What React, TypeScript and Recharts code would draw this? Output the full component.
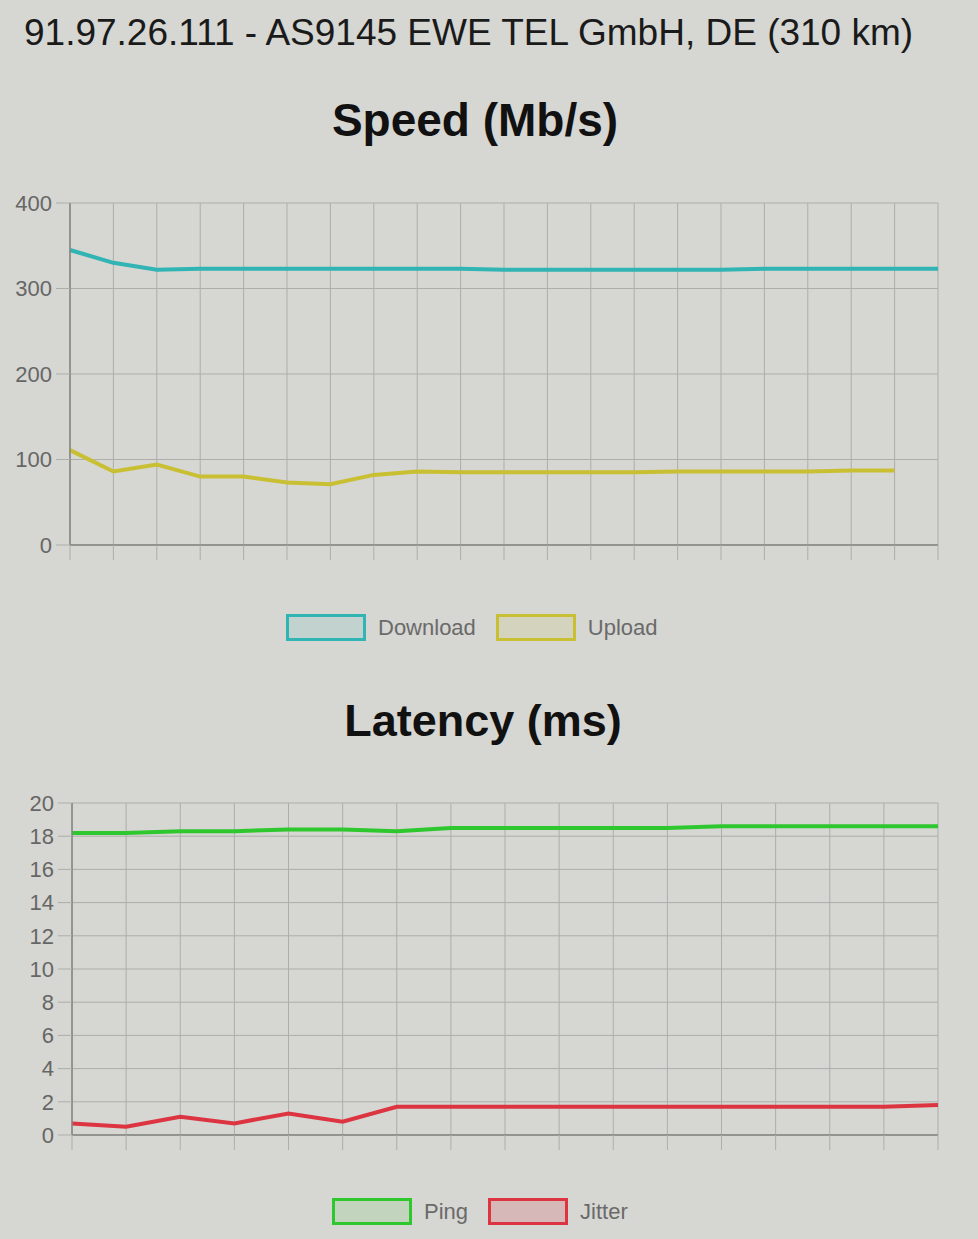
import React from 'react';
import { LineChart, Line, XAxis, YAxis, CartesianGrid } from 'recharts';

const headerText = '91.97.26.111 - AS9145 EWE TEL GmbH, DE (310 km)';
const speedTitle = 'Speed (Mb/s)';
const latencyTitle = 'Latency (ms)';

const speedTicks = [0, 100, 200, 300, 400];
const latencyTicks = [0, 2, 4, 6, 8, 10, 12, 14, 16, 18, 20];

const downloadValues = [345, 330, 322, 323, 323, 323, 323, 323, 323, 323, 322, 322, 322, 322, 322, 322, 323, 323, 323, 323, 323];
const uploadValues = [111, 86, 94, 80, 80, 73, 71, 82, 86, 85, 85, 85, 85, 85, 86, 86, 86, 86, 87, 87];

const pingValues = [18.2, 18.2, 18.3, 18.3, 18.4, 18.4, 18.3, 18.5, 18.5, 18.5, 18.5, 18.5, 18.6, 18.6, 18.6, 18.6, 18.6];
const jitterValues = [0.7, 0.5, 1.1, 0.7, 1.3, 0.8, 1.7, 1.7, 1.7, 1.7, 1.7, 1.7, 1.7, 1.7, 1.7, 1.7, 1.8];

const speedSeries = [
  { key: 'download', name: 'Download', color: '#30b4b4', fill: 'rgba(48,180,180,0.12)' },
  { key: 'upload', name: 'Upload', color: '#c8c032', fill: 'rgba(200,192,50,0.12)' },
];
const latencySeries = [
  { key: 'ping', name: 'Ping', color: '#2ec82e', fill: 'rgba(46,200,46,0.12)' },
  { key: 'jitter', name: 'Jitter', color: '#dc3440', fill: 'rgba(220,52,64,0.18)' },
];

const speedData = downloadValues.map((d, i) => ({
  i: String(i),
  download: d,
  upload: i < uploadValues.length ? uploadValues[i] : undefined,
}));
const latencyData = pingValues.map((p, i) => ({ i: String(i), ping: p, jitter: jitterValues[i] }));

const FONT = '"Liberation Sans", Arial, Helvetica, sans-serif';
const GRID = '#adadaa';
const AXIS = '#838381';
const BG = '#d6d6d2';

function LegendRow({ items, left, top }: { items: typeof speedSeries; left: number; top: number }) {
  return (
    <div style={{ position: 'absolute', left, top, display: 'flex', alignItems: 'center', fontFamily: FONT }}>
      {items.map((it, idx) => (
        <div key={it.key} style={{ display: 'flex', alignItems: 'center', marginRight: idx === 0 ? 20 : 0 }}>
          <div
            style={{
              width: 74,
              height: 21,
              border: `3px solid ${it.color}`,
              background: it.fill,
              marginRight: 12,
            }}
          />
          <span style={{ fontSize: 22, color: '#6a6a6a' }}>{it.name}</span>
        </div>
      ))}
    </div>
  );
}

function Chart({
  data,
  series,
  ticks,
  domain,
  top,
  height,
  leftMargin,
}: {
  data: any[];
  series: typeof speedSeries;
  ticks: number[];
  domain: [number, number];
  top: number;
  height: number;
  leftMargin: number;
}) {
  return (
    <div style={{ position: 'absolute', left: 0, top }}>
      <LineChart width={978} height={height} data={data} margin={{ top: 23, right: 40, bottom: 10, left: leftMargin }}>
        <CartesianGrid stroke={GRID} strokeWidth={1} />
        <XAxis
          dataKey="i"
          tickFormatter={() => ''}
          tickSize={15}
          tickLine={{ stroke: GRID }}
          axisLine={{ stroke: AXIS, strokeWidth: 1.5 }}
          height={20}
          interval={0}
        />
        <YAxis
          width={60}
          domain={domain}
          ticks={ticks}
          interval={0}
          tickSize={14}
          tickMargin={4}
          tickLine={{ stroke: GRID }}
          axisLine={{ stroke: AXIS, strokeWidth: 1.5 }}
          tick={{ fontSize: 22, fill: '#666', fontFamily: FONT }}
        />
        {series.map((s) => (
          <Line
            key={s.key}
            dataKey={s.key}
            name={s.name}
            stroke={s.color}
            strokeWidth={4}
            dot={false}
            type="linear"
            isAnimationActive={false}
          />
        ))}
      </LineChart>
    </div>
  );
}

export default function App() {
  return (
    <div style={{ position: 'absolute', left: 0, top: 0, width: 978, height: 1239, background: BG, overflow: 'hidden' }}>
      <div
        style={{
          position: 'absolute',
          left: 24,
          top: 12,
          fontFamily: FONT,
          fontSize: 37,
          color: '#1a1a1a',
          whiteSpace: 'nowrap',
        }}
      >
        {headerText}
      </div>
      <div
        style={{
          position: 'absolute',
          left: 275,
          width: 400,
          top: 93,
          textAlign: 'center',
          fontFamily: FONT,
          fontSize: 46,
          fontWeight: 'bold',
          color: '#111',
        }}
      >
        {speedTitle}
      </div>
      <Chart data={speedData} series={speedSeries} ticks={speedTicks} domain={[0, 400]} top={180} height={395} leftMargin={10} />
      <LegendRow items={speedSeries} left={286} top={614} />

      <div
        style={{
          position: 'absolute',
          left: 283,
          width: 400,
          top: 695,
          textAlign: 'center',
          fontFamily: FONT,
          fontSize: 45,
          fontWeight: 'bold',
          color: '#111',
        }}
      >
        {latencyTitle}
      </div>
      <Chart data={latencyData} series={latencySeries} ticks={latencyTicks} domain={[0, 20]} top={780} height={385} leftMargin={12} />
      <LegendRow items={latencySeries} left={332} top={1198} />
    </div>
  );
}
